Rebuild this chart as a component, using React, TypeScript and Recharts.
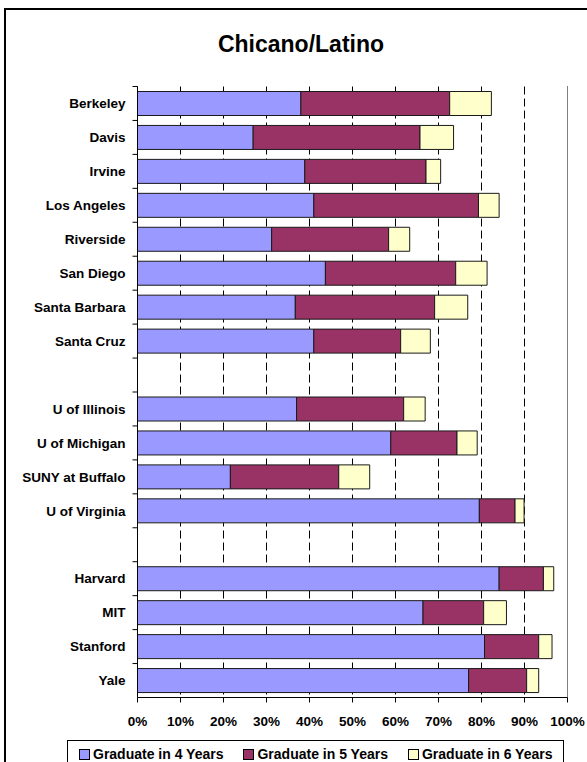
import React from 'react'
import { BarChart, Bar, XAxis, YAxis, CartesianGrid, ReferenceLine } from 'recharts'

const categories = [
  'Berkeley', 'Davis', 'Irvine', 'Los Angeles', 'Riverside', 'San Diego', 'Santa Barbara', 'Santa Cruz',
  '',
  'U of Illinois', 'U of Michigan', 'SUNY at Buffalo', 'U of Virginia',
  '',
  'Harvard', 'MIT', 'Stanford', 'Yale',
]
const grad4 = [38.0, 26.9, 38.9, 41.0, 31.2, 43.7, 36.7, 41.0, null, 37.0, 58.9, 21.6, 79.5, null, 84.1, 66.4, 80.7, 77.0]
const grad5 = [34.6, 38.8, 28.2, 38.3, 27.2, 30.3, 32.4, 20.2, null, 24.9, 15.4, 25.2, 8.3, null, 10.3, 14.1, 12.6, 13.5]
const grad6 = [9.7, 7.8, 3.4, 4.8, 4.9, 7.3, 7.7, 6.9, null, 5.0, 4.7, 7.2, 2.1, null, 2.4, 5.3, 3.1, 2.8]
const xTicks = [0, 10, 20, 30, 40, 50, 60, 70, 80, 90, 100]

const SERIES = [
  { key: 'g4', label: 'Graduate in 4 Years', color: '#9999FF' },
  { key: 'g5', label: 'Graduate in 5 Years', color: '#993366' },
  { key: 'g6', label: 'Graduate in 6 Years', color: '#FFFFCC' },
]

const data = categories.map((name, i) => ({ name, g4: grad4[i], g5: grad5[i], g6: grad6[i] }))

const FONT = '"Liberation Sans", Arial, sans-serif'
const BAND = 611 / categories.length

function UniTick({ x, y, payload }: any) {
  return (
    <g>
      <text x={x} y={y} dy="0.355em" textAnchor="end" fontFamily={FONT} fontWeight="bold" fontSize={13.5} fill="#000">
        {payload.value}
      </text>
      <line x1={x + 7} x2={x + 12} y1={y - BAND / 2} y2={y - BAND / 2} stroke="#000" />
    </g>
  )
}

export default function App() {
  return (
    <div style={{ position: 'fixed', left: 0, top: 0, width: 587, height: 762, overflow: 'hidden', background: '#fff', fontFamily: FONT }}>
      <div style={{ position: 'absolute', left: 4, top: 8, width: 700, height: 800, border: '2px solid #000' }} />
      <div style={{ position: 'absolute', left: 0, top: 33, width: 602, textAlign: 'center', fontSize: 23, lineHeight: '23px', fontWeight: 'bold', color: '#000' }}>
        Chicano/Latino
      </div>

      <div style={{ position: 'absolute', left: 0, top: 0 }}>
        <BarChart
          width={587}
          height={762}
          data={data}
          layout="vertical"
          margin={{ top: 86.5, right: 19.5, bottom: 34.5, left: 0 }}
        >
          <CartesianGrid horizontal={false} stroke="#000" strokeDasharray="8 4" />
          <XAxis
            type="number"
            domain={[0, 100]}
            ticks={xTicks}
            tickFormatter={(v) => `${v}%`}
            height={30}
            tickSize={5}
            tickMargin={14}
            axisLine={{ stroke: '#000' }}
            tickLine={{ stroke: '#000' }}
            tick={{ fill: '#000', fontSize: 13.5, fontWeight: 'bold', fontFamily: FONT }}
          />
          <XAxis
            xAxisId="top"
            orientation="top"
            type="number"
            domain={[0, 100]}
            height={0}
            tick={false}
            tickLine={false}
            axisLine={{ stroke: '#808080' }}
          />
          <YAxis
            type="category"
            dataKey="name"
            width={137.5}
            tickSize={5}
            tickMargin={7}
            tickLine={false}
            axisLine={{ stroke: '#000' }}
            tick={<UniTick />}
            interval={0}
          />
          <ReferenceLine x={100} stroke="#808080" />
          {SERIES.map((s) => (
            <Bar
              key={s.key}
              dataKey={s.key}
              name={s.label}
              stackId="a"
              fill={s.color}
              stroke="#1a1a1a"
              strokeWidth={1}
              barSize={24}
              isAnimationActive={false}
            />
          ))}
        </BarChart>
      </div>

      {/* Legend */}
      <div
        style={{
          position: 'absolute', left: 67, top: 740, width: 497, height: 30,
          border: '1px solid #000', background: '#fff', boxSizing: 'border-box',
          display: 'flex', alignItems: 'flex-start', paddingLeft: 11, paddingTop: 6, gap: 20,
        }}
      >
        {SERIES.map((s) => (
          <div key={s.key} style={{ display: 'flex', alignItems: 'center', gap: 3 }}>
            <span style={{ width: 9, height: 9, border: '1px solid #000', background: s.color, display: 'inline-block' }} />
            <span style={{ fontSize: 14, fontWeight: 'bold', color: '#000', lineHeight: '14px' }}>{s.label}</span>
          </div>
        ))}
      </div>
    </div>
  )
}
